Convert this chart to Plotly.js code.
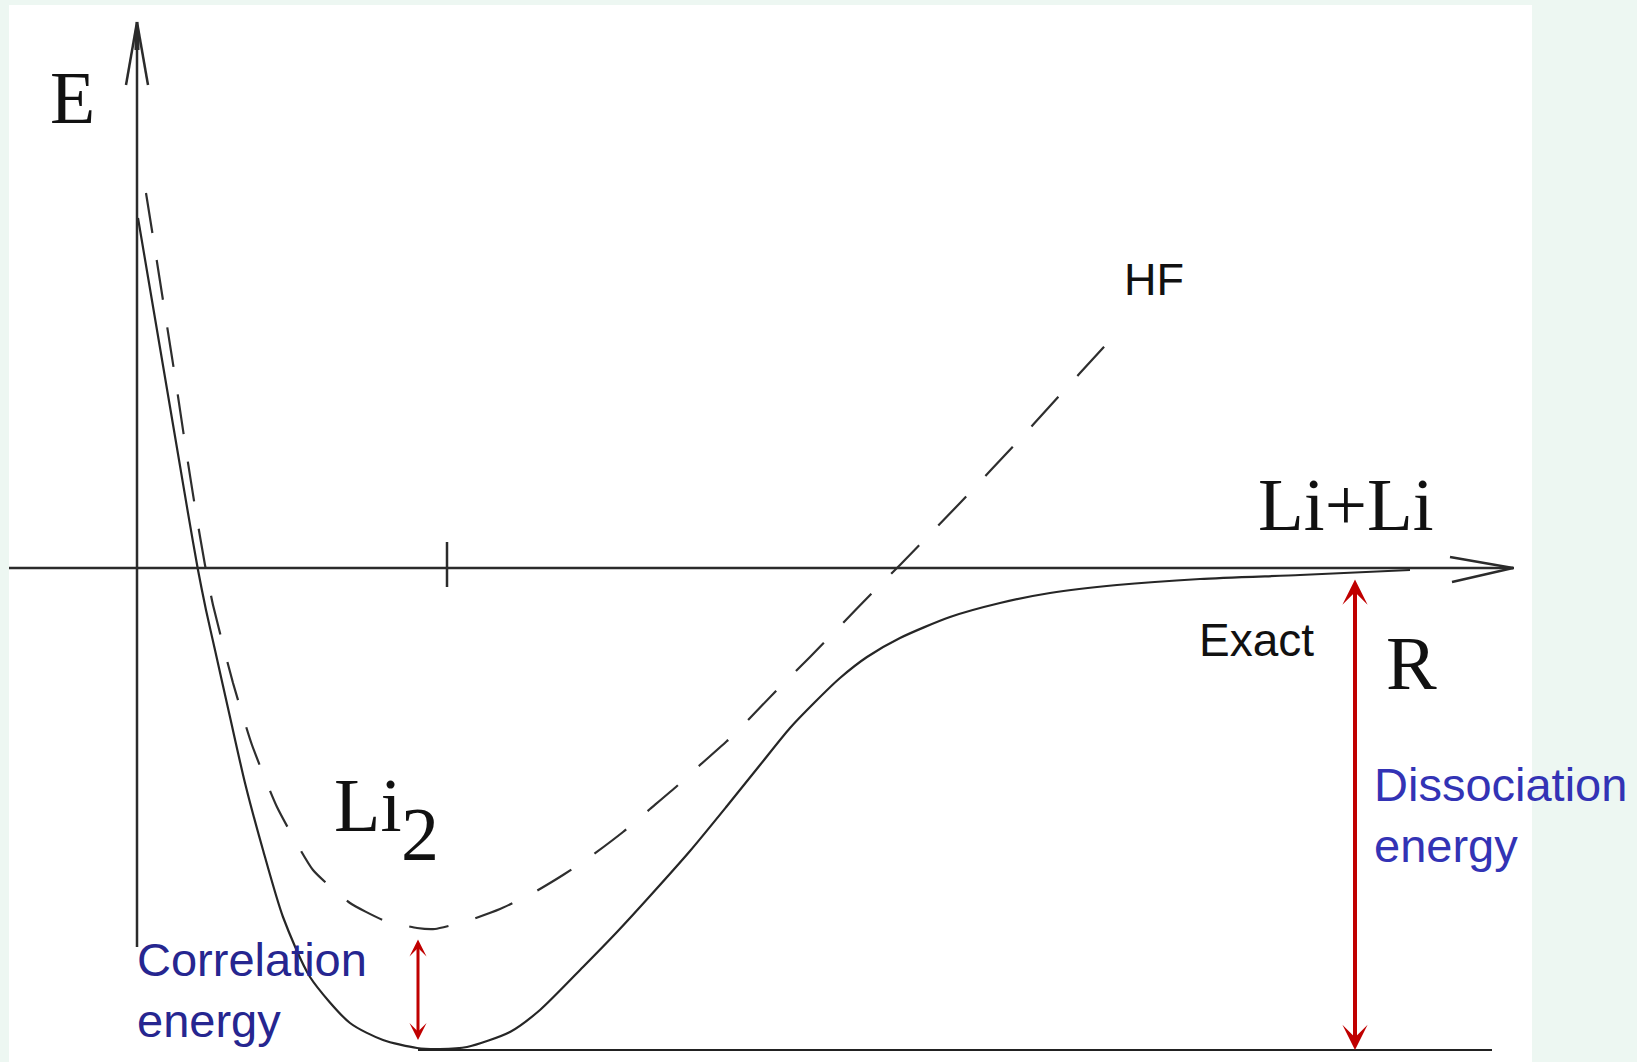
<!DOCTYPE html>
<html><head><meta charset="utf-8">
<script src="https://cdn.plot.ly/plotly-3.0.1.min.js"></script>
<style>html,body{margin:0;padding:0;background:#edf7f2;} #chart{width:1637px;height:1062px;}</style>
</head><body><div id="chart"></div>
<script>
// Potential energy curves of Li2 (R in arbitrary units, E in arbitrary units, E=0 at Li+Li)
const exactR = [0.01,0.11,0.21,0.31,0.41,0.51,0.61,0.69,0.78,0.93,1.08,1.26,1.46,1.73,2.13,2.46,2.80,3.03,3.30,3.73,4.03,4.46,4.80,5.13,5.53,5.90,6.23,6.53,6.78,7.03,7.30,7.63,8.13,8.63,9.13,9.80,10.63,11.63,12.73];
const exactE = [3.50,2.91,2.32,1.73,1.14,0.55,-0.02,-0.42,-0.82,-1.49,-2.15,-2.82,-3.49,-4.09,-4.55,-4.72,-4.80,-4.81,-4.79,-4.64,-4.42,-3.99,-3.64,-3.28,-2.83,-2.38,-1.97,-1.60,-1.34,-1.10,-0.89,-0.70,-0.49,-0.35,-0.25,-0.17,-0.11,-0.07,-0.02];
const hfR = [0.09,0.17,0.28,0.39,0.49,0.59,0.68,0.76,0.96,1.15,1.40,1.76,2.13,2.46,2.80,2.98,3.30,3.63,3.96,4.26,4.53,4.86,5.13,5.40,5.63,5.90,6.10,6.41,6.73,7.05,7.35,7.63,7.93,8.23,8.53,8.83,9.13,9.43,9.76];
const hfE = [3.75,3.25,2.55,1.85,1.18,0.55,0.03,-0.37,-1.15,-1.77,-2.39,-3.02,-3.35,-3.52,-3.60,-3.61,-3.53,-3.41,-3.25,-3.07,-2.89,-2.64,-2.41,-2.18,-1.97,-1.73,-1.53,-1.21,-0.89,-0.56,-0.25,0.03,0.34,0.65,0.97,1.29,1.62,1.95,2.31];

const eqR = 3.1;            // equilibrium distance tick
const exactMin = -4.82;     // exact minimum energy (reference level)
const dissocR = 12.18;      // position of dissociation-energy arrow
const corrR = 2.81;         // position of correlation-energy arrow

const axisCol = '#2b2b2b';
const traces = [
  {x: exactR, y: exactE, mode: 'lines', line: {color: '#262626', width: 2.2, shape: 'spline', smoothing: 0.7}, hoverinfo: 'skip'},
  {x: hfR, y: hfE, mode: 'lines', line: {color: '#2e2e2e', width: 2.2, dash: '40px,28px', shape: 'spline', smoothing: 0.5}, hoverinfo: 'skip'}
];

const L = (x0, y0, x1, y1, w, c) => ({type: 'line', xref: 'x', yref: 'y', x0, y0, x1, y1, line: {color: c || axisCol, width: w || 2.5}});
const shapes = [
  L(-1.28, 0, 13.77, 0),                 // R axis
  L(0, 5.46, 0, -3.79),                  // E axis
  L(0, 5.36, 0, 5.18, 5),                // thick top of E axis
  L(-0.11, 4.83, 0, 5.46, 2.5),          // E arrowhead
  L(0.11, 4.83, 0, 5.46, 2.5),
  L(13.13, 0.11, 13.76, 0, 2.5),         // R arrowhead
  L(13.15, -0.14, 13.76, 0, 2.5),
  L(eqR, 0.26, eqR, -0.19, 2.5),         // tick at equilibrium
  L(corrR, exactMin, 13.55, exactMin, 2.2, '#222')  // exact minimum level
];

const serif = 'Liberation Serif, Times New Roman, serif';
const sans = 'Liberation Sans, Arial, sans-serif';
const txt = (text, x, y, size, family, color) => ({text, x, y, xref: 'x', yref: 'y', xanchor: 'left', yanchor: 'middle', align: 'left', showarrow: false, font: {size, family, color: color || '#111'}});
const annotations = [
  txt('E', -0.89, 4.70, 74, serif),
  txt('Li+Li', 11.19, 0.64, 75, serif),
  txt('R', 12.47, -0.95, 76, serif),
  txt('Li', 1.95, -2.37, 76, serif),
  txt('2', 2.62, -2.66, 76, serif),
  txt('HF', 9.85, 2.89, 45, sans),
  txt('Exact', 10.60, -0.72, 46, sans),
  txt('Correlation<br>energy', -0.02, -4.22, 47, sans, '#262690'),
  txt('Dissociation<br>energy', 12.35, -2.47, 47, sans, '#3333b5'),
  {x: corrR, y: -4.72, ax: corrR, ay: -3.70, xref: 'x', yref: 'y', axref: 'x', ayref: 'y', text: '', showarrow: true,
   arrowside: 'end+start', arrowhead: 3, startarrowhead: 3, arrowsize: 0.95, startarrowsize: 0.95, arrowwidth: 3, arrowcolor: '#c00000', standoff: 0, startstandoff: 0},
  {x: dissocR, y: exactMin, ax: dissocR, ay: -0.10, xref: 'x', yref: 'y', axref: 'x', ayref: 'y', text: '', showarrow: true,
   arrowside: 'end+start', arrowhead: 3, startarrowhead: 3, arrowsize: 1.05, startarrowsize: 1.05, arrowwidth: 4, arrowcolor: '#c00000', standoff: 0, startstandoff: 0}
];

const layout = {
  width: 1637, height: 1062,
  margin: {l: 9, r: 105, t: 5, b: 0, pad: 0},
  paper_bgcolor: '#edf7f2', plot_bgcolor: '#ffffff',
  showlegend: false,
  xaxis: {range: [-1.28, 13.95], visible: false, fixedrange: true},
  yaxis: {range: [-4.94, 5.63], visible: false, fixedrange: true},
  shapes, annotations
};
Plotly.newPlot('chart', traces, layout, {displayModeBar: false, staticPlot: true});
</script></body></html>
